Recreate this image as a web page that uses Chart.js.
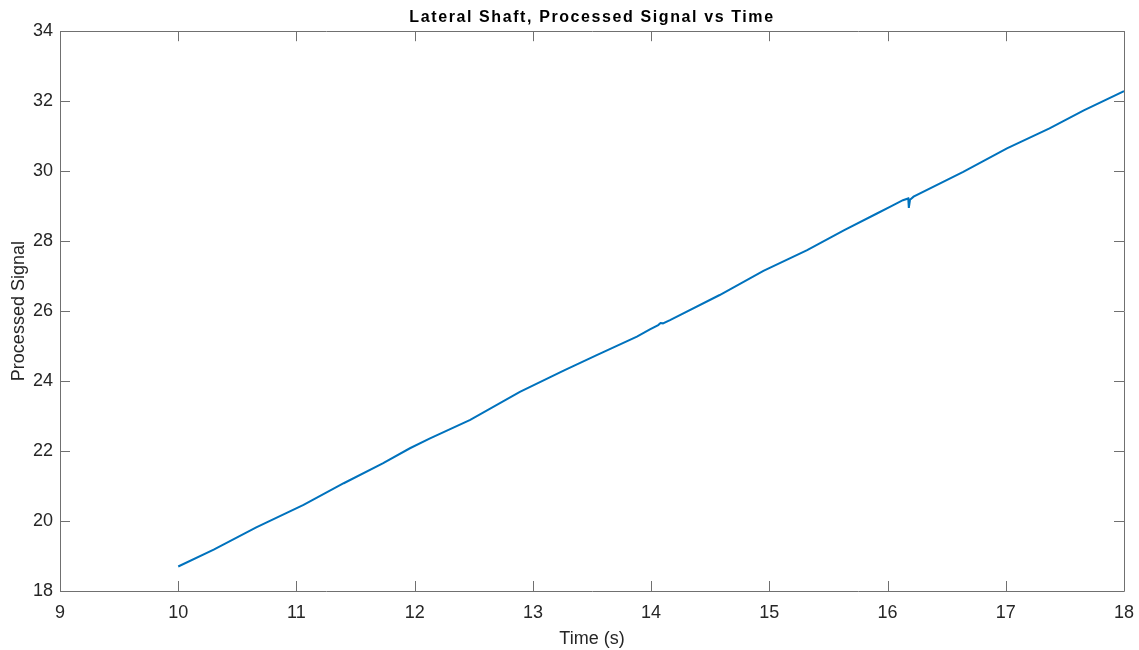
<!DOCTYPE html>
<html>
<head>
<meta charset="utf-8">
<script src="https://cdn.jsdelivr.net/npm/chart.js@4/dist/chart.umd.min.js"></script>
<style>
html,body{margin:0;padding:0;background:#fff;}
#wrap{width:1139px;height:650px;position:relative;}
</style>
</head>
<body>
<div id="wrap"><canvas id="c" width="1139" height="650"></canvas></div>
<script>
const titleText = "Lateral Shaft, Processed Signal vs Time";
const xLabel = "Time (s)";
const yLabel = "Processed Signal";
const xTicks = [9, 10, 11, 12, 13, 14, 15, 16, 17, 18];
const yTicks = [18, 20, 22, 24, 26, 28, 30, 32, 34];
const time = [10.00, 10.30, 10.66, 11.06, 11.40, 11.73, 11.96, 12.13, 12.47, 12.89, 13.26, 13.54, 13.88, 13.99, 14.06, 14.08, 14.10, 14.16, 14.58, 14.95, 15.32, 15.63, 15.91, 16.02, 16.13, 16.175, 16.18, 16.19, 16.22, 16.64, 17.01, 17.37, 17.66, 18.00];
const signal = [18.70, 19.18, 19.82, 20.46, 21.08, 21.65, 22.08, 22.36, 22.89, 23.69, 24.30, 24.74, 25.27, 25.48, 25.60, 25.66, 25.65, 25.74, 26.46, 27.15, 27.74, 28.31, 28.79, 28.98, 29.17, 29.22, 28.95, 29.18, 29.27, 29.98, 30.65, 31.22, 31.74, 32.29];

const points = time.map((t, i) => ({x: t, y: signal[i]}));
const FONT = "'Liberation Sans', Arial, Helvetica, sans-serif";
const AX = '#707070';

const boxPlugin = {
  id: 'boxTicks',
  afterDatasetsDraw(chart) {
    const {ctx, chartArea: a, scales} = chart;
    ctx.save();
    ctx.strokeStyle = AX;
    ctx.lineWidth = 1;
    ctx.beginPath();
    ctx.rect(Math.round(a.left) + 0.5, Math.round(a.top) + 0.5, Math.round(a.right - a.left), Math.round(a.bottom - a.top));
    const L = 10;
    xTicks.forEach(v => {
      const px = Math.round(scales.x.getPixelForValue(v)) + 0.5;
      ctx.moveTo(px, a.bottom); ctx.lineTo(px, a.bottom - L);
      ctx.moveTo(px, a.top); ctx.lineTo(px, a.top + L);
    });
    yTicks.forEach(v => {
      const py = Math.round(scales.y.getPixelForValue(v)) + 0.5;
      ctx.moveTo(a.left, py); ctx.lineTo(a.left + L, py);
      ctx.moveTo(a.right, py); ctx.lineTo(a.right - L, py);
    });
    ctx.stroke();
    ctx.restore();
  }
};

const chart = new Chart(document.getElementById('c'), {
  type: 'line',
  data: {
    datasets: [{
      data: points,
      borderColor: '#0072BD',
      borderWidth: 2,
      pointRadius: 0,
      tension: 0,
      fill: false
    }]
  },
  options: {
    responsive: false,
    animation: false,
    layout: {padding: {top: 0, right: 15, bottom: 0, left: 0}},
    plugins: {
      legend: {display: false},
      tooltip: {enabled: false},
      title: {
        display: true,
        text: titleText,
        fullSize: false,
        color: '#000',
        font: {family: FONT, size: 16, weight: 'bold'},
        padding: {top: 8, bottom: 4}
      }
    },
    scales: {
      x: {
        type: 'linear',
        min: 9, max: 18,
        afterBuildTicks: s => { s.ticks = xTicks.map(v => ({value: v})); },
        afterFit: s => { s.height = 59; s.paddingLeft = 0; s.paddingRight = 0; },
        grid: {display: false, drawTicks: false},
        border: {display: false},
        ticks: {color: '#262626', font: {family: FONT, size: 18}, padding: 11, maxRotation: 0},
        title: {display: true, text: xLabel, color: '#262626', font: {family: FONT, size: 18}, padding: {top: 0, bottom: 0}}
      },
      y: {
        type: 'linear',
        min: 18, max: 34,
        afterBuildTicks: s => { s.ticks = yTicks.map(v => ({value: v})); },
        afterFit: s => { s.width = 60; },
        grid: {display: false, drawTicks: false},
        border: {display: false},
        ticks: {color: '#262626', font: {family: FONT, size: 18}, padding: 7},
        title: {display: true, text: yLabel, color: '#262626', font: {family: FONT, size: 18}, padding: {top: 8, bottom: 0}}
      }
    }
  },
  plugins: [boxPlugin]
});

// MATLAB-style wider letter spacing for the title text
if (chart.titleBlock) {
  const origDraw = chart.titleBlock.draw.bind(chart.titleBlock);
  chart.titleBlock.draw = function () {
    const ctx = this.ctx;
    ctx.save();
    ctx.letterSpacing = '1.6px';
    origDraw();
    ctx.restore();
  };
  chart.draw();
}
</script>
</body>
</html>
